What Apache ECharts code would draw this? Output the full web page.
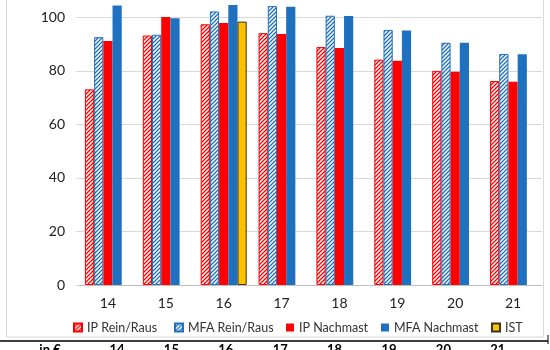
<!DOCTYPE html>
<html>
<head>
<meta charset="utf-8">
<script src="https://cdn.jsdelivr.net/npm/echarts@6/dist/echarts.min.js"></script>
<style>
html,body{margin:0;padding:0;background:#fff;}
#c{width:550px;height:350px;}
</style>
</head>
<body>
<div id="c"></div>
<script>
// ---- data ----
const categories = ['14', '15', '16', '17', '18', '19', '20', '21'];
const ipReinRaus = [73.1, 93.2, 97.4, 94.1, 88.9, 84.2, 80.0, 76.2];
const mfaReinRaus = [92.6, 93.5, 102.2, 104.2, 100.6, 95.3, 90.5, 86.3];
const ipNachmast = [91.2, 100.1, 97.9, 93.8, 88.5, 83.8, 79.7, 75.9];
const mfaNachmast = [104.4, 99.7, 104.6, 104.0, 100.5, 95.1, 90.5, 86.2];
const ist = [null, null, 98.4, null, null, null, null, null];
const seriesNames = ['IP Rein/Raus', 'MFA Rein/Raus', 'IP Nachmast', 'MFA Nachmast', 'IST'];
const tableHeader = ['in €', '14', '15', '16', '17', '18', '19', '20', '21'];

function hatch(color) {
  const c = document.createElement('canvas');
  c.width = 4; c.height = 4;
  const g = c.getContext('2d');
  g.fillStyle = '#ffffff';
  g.fillRect(0, 0, 4, 4);
  g.strokeStyle = color;
  g.lineWidth = 1.3;
  g.beginPath();
  g.moveTo(0, 4); g.lineTo(4, 0);
  g.moveTo(-1, 1); g.lineTo(1, -1);
  g.moveTo(3, 5); g.lineTo(5, 3);
  g.stroke();
  return c;
}

const RED = '#FF0000';
const BLUE = '#1F70BF';
const font = 'Lato, "Open Sans", sans-serif';

const chart = echarts.init(document.getElementById('c'), null, {renderer: 'canvas'});

const barBase = { type: 'bar', barWidth: 9.2, barGap: '0%' };

const headerTexts = tableHeader.map((t, i) => ({
  type: 'text',
  x: i === 0 ? 50 : 117 + (i - 1) * 54.4,
  y: 343,
  style: { text: t, font: 'bold 13px ' + font, fill: '#000', textAlign: 'center', textVerticalAlign: 'top' },
  silent: true
}));

const legendLeft = [73, 174, 286, 381, 491];
const legends = seriesNames.map((n, i) => ({
  left: legendLeft[i], top: 321,
  itemWidth: 8, itemHeight: 8,
  icon: 'rect',
  padding: 0,
  textStyle: { fontSize: 12.5, color: '#333', fontFamily: font },
  data: [n]
}));

chart.setOption({
  animation: false,
  backgroundColor: '#fff',
  grid: { left: 79, right: 8, top: -36.2, bottom: 65, containLabel: false, outerBoundsMode: 'none' },
  xAxis: {
    type: 'category',
    data: categories,
    axisLine: { lineStyle: { color: '#BFBFBF', width: 1 } },
    axisTick: { show: false },
    axisLabel: { fontSize: 14, color: '#222', fontFamily: font, margin: 11 }
  },
  yAxis: {
    type: 'value',
    min: 0, max: 120, interval: 20,
    axisLine: { show: false },
    axisTick: { show: true, length: 3, lineStyle: { color: '#D9D9D9' } },
    splitLine: { lineStyle: { color: '#D9D9D9', width: 1 } },
    axisLabel: { fontSize: 14, color: '#222', fontFamily: font, margin: 14 }
  },
  legend: legends,
  series: [
    Object.assign({}, barBase, {
      name: seriesNames[0], data: ipReinRaus,
      itemStyle: { color: { image: hatch(RED), repeat: 'repeat' }, borderColor: RED, borderWidth: 1 }
    }),
    Object.assign({}, barBase, {
      name: seriesNames[1], data: mfaReinRaus,
      itemStyle: { color: { image: hatch(BLUE), repeat: 'repeat' }, borderColor: BLUE, borderWidth: 1 }
    }),
    Object.assign({}, barBase, {
      name: seriesNames[2], data: ipNachmast,
      itemStyle: { color: RED }
    }),
    Object.assign({}, barBase, {
      name: seriesNames[3], data: mfaNachmast,
      itemStyle: { color: BLUE }
    }),
    Object.assign({}, barBase, {
      name: seriesNames[4], data: ist,
      itemStyle: { color: '#FFC000', borderColor: '#3A3320', borderWidth: 1 }
    })
  ],
  graphic: [
    { type: 'rect', shape: { x: 6.5, y: -5, width: 537, height: 342 }, style: { fill: 'none', stroke: '#D9D9D9', lineWidth: 1 }, silent: true },
    { type: 'line', shape: { x1: 0, y1: 341, x2: 548, y2: 341 }, style: { stroke: '#000', lineWidth: 1.5 }, silent: true },
    { type: 'line', shape: { x1: 548, y1: 335, x2: 548, y2: 344 }, style: { stroke: '#000', lineWidth: 1 }, silent: true }
  ].concat(headerTexts)
});
</script>
</body>
</html>
